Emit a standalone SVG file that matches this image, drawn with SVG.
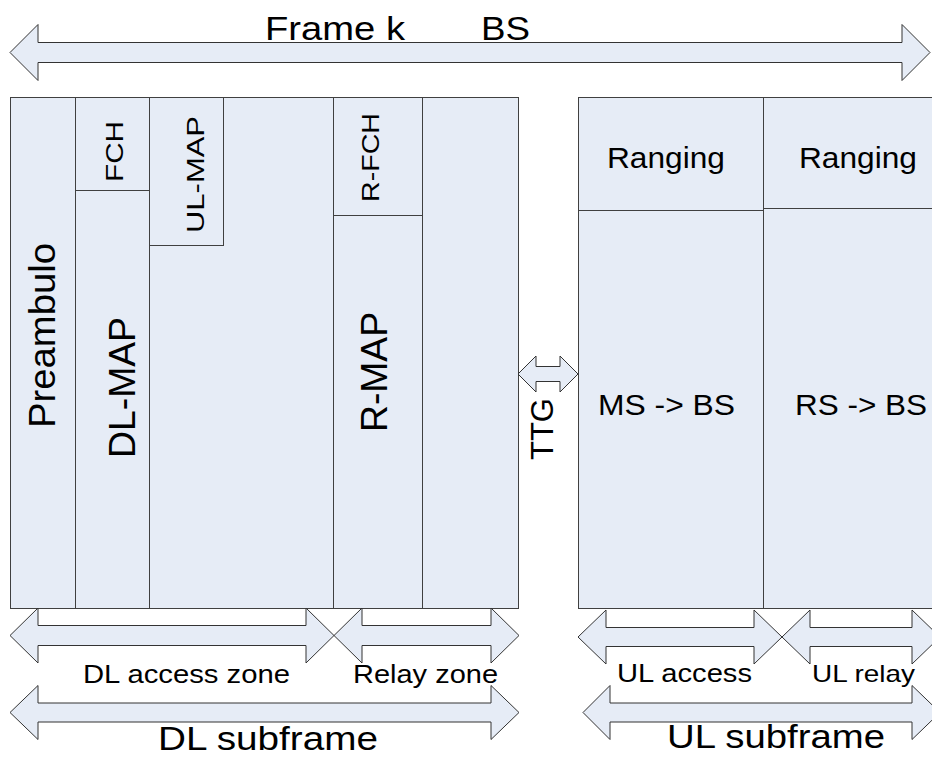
<svg xmlns="http://www.w3.org/2000/svg" width="932" height="758" viewBox="0 0 932 758">
<style>
.box{fill:#E6ECF6;stroke:#404040;stroke-width:1}
.ln{fill:none;stroke:#404040;stroke-width:1}
.arr{fill:#E6ECF6;stroke:#333;stroke-width:1;stroke-linejoin:miter}
text{font-family:"Liberation Sans",Arial,sans-serif;fill:#000}
</style>
<rect width="932" height="758" fill="#fff"/>
<g id="dl-subframe-block">
<rect class="box" x="10.5" y="97.5" width="508" height="511"/>
</g>
<g id="preambulo">
<line class="ln" x1="75.5" y1="97.5" x2="75.5" y2="608.5"/>
<text font-size="37" textLength="185" lengthAdjust="spacingAndGlyphs" transform="translate(55,428) rotate(-90)">Preambulo</text>
</g>
<g id="fch">
<line class="ln" x1="75.5" y1="190.5" x2="149.5" y2="190.5"/>
<text font-size="24" textLength="61" lengthAdjust="spacingAndGlyphs" transform="translate(123,182) rotate(-90)">FCH</text>
</g>
<g id="dl-map">
<line class="ln" x1="149.5" y1="97.5" x2="149.5" y2="608.5"/>
<text font-size="37" textLength="141" lengthAdjust="spacingAndGlyphs" transform="translate(135,458) rotate(-90)">DL-MAP</text>
</g>
<g id="ul-map">
<rect class="box" x="149.5" y="97.5" width="74" height="148"/>
<text font-size="24" textLength="117" lengthAdjust="spacingAndGlyphs" transform="translate(204,233) rotate(-90)">UL-MAP</text>
</g>
<g id="r-fch">
<line class="ln" x1="333.5" y1="97.5" x2="333.5" y2="608.5"/>
<line class="ln" x1="333.5" y1="215.5" x2="422.5" y2="215.5"/>
<text font-size="24" textLength="89" lengthAdjust="spacingAndGlyphs" transform="translate(379,202) rotate(-90)">R-FCH</text>
</g>
<g id="r-map">
<line class="ln" x1="422.5" y1="97.5" x2="422.5" y2="608.5"/>
<text font-size="37" textLength="120" lengthAdjust="spacingAndGlyphs" transform="translate(387,432) rotate(-90)">R-MAP</text>
</g>
<g id="ul-access-block">
<rect class="box" x="578.5" y="97.5" width="185" height="511"/>
<line class="ln" x1="578.5" y1="210.5" x2="763.5" y2="210.5"/>
<text font-size="30" textLength="118" lengthAdjust="spacingAndGlyphs" x="607" y="168">Ranging</text>
<text font-size="30" textLength="137" lengthAdjust="spacingAndGlyphs" x="598" y="415">MS -&gt; BS</text>
</g>
<g id="ul-relay-block">
<rect class="box" x="763.5" y="97.5" width="180" height="511"/>
<line class="ln" x1="763.5" y1="208.5" x2="943" y2="208.5"/>
<text font-size="30" textLength="118" lengthAdjust="spacingAndGlyphs" x="799" y="168">Ranging</text>
<text font-size="30" textLength="132" lengthAdjust="spacingAndGlyphs" x="795" y="415">RS -&gt; BS</text>
</g>
<g id="connectors">
<polygon id="frame-arrow" class="arr" points="10,52.5 38,24.5 38,42.5 902,42.5 902,24.5 930,52.5 902,80.5 902,62.5 38,62.5 38,80.5"/>
<polygon id="ttg-arrow" class="arr" points="518,374 536,356 536,366.5 560,366.5 560,356 578,374 560,392 560,381.5 536,381.5 536,392"/>
<polygon id="dl-access-arrow" class="arr" points="10,635.5 38,608 38,625.5 306,625.5 306,608 334,635.5 306,663 306,645.5 38,645.5 38,663"/>
<polygon id="relay-arrow" class="arr" points="334,635.5 362,608 362,625.5 491,625.5 491,608 519,635.5 491,663 491,645.5 362,645.5 362,663"/>
<polygon id="dl-subframe-arrow" class="arr" points="10,712.5 38,685.5 38,703 491,703 491,685.5 519,712.5 491,739.5 491,722 38,722 38,739.5"/>
<polygon id="ul-access-arrow" class="arr" points="578,637 606,610 606,627.5 754,627.5 754,610 782,637 754,664 754,646.5 606,646.5 606,664"/>
<polygon id="ul-relay-arrow" class="arr" points="782,637 810,610 810,627.5 912,627.5 912,610 940,637 912,664 912,646.5 810,646.5 810,664"/>
<polygon id="ul-subframe-arrow" class="arr" points="583,712.5 610,685.5 610,703 912,703 912,685.5 940,712.5 912,739.5 912,722 610,722 610,739.5"/>
</g>
<g id="labels">
<text font-size="34" textLength="140" lengthAdjust="spacingAndGlyphs" x="265" y="40">Frame k</text>
<text font-size="34" textLength="49" lengthAdjust="spacingAndGlyphs" x="481" y="40">BS</text>
<text font-size="31" textLength="62" lengthAdjust="spacingAndGlyphs" transform="translate(553,460) rotate(-90)">TTG</text>
<text font-size="26" textLength="207" lengthAdjust="spacingAndGlyphs" x="83" y="683">DL access zone</text>
<text font-size="26" textLength="145" lengthAdjust="spacingAndGlyphs" x="353" y="683">Relay zone</text>
<text font-size="26" textLength="135" lengthAdjust="spacingAndGlyphs" x="617" y="682">UL access</text>
<text font-size="24" textLength="103" lengthAdjust="spacingAndGlyphs" x="812" y="682">UL relay</text>
<text font-size="34" textLength="220" lengthAdjust="spacingAndGlyphs" x="158" y="750">DL subframe</text>
<text font-size="34" textLength="218" lengthAdjust="spacingAndGlyphs" x="667" y="748">UL subframe</text>
</g>
</svg>
